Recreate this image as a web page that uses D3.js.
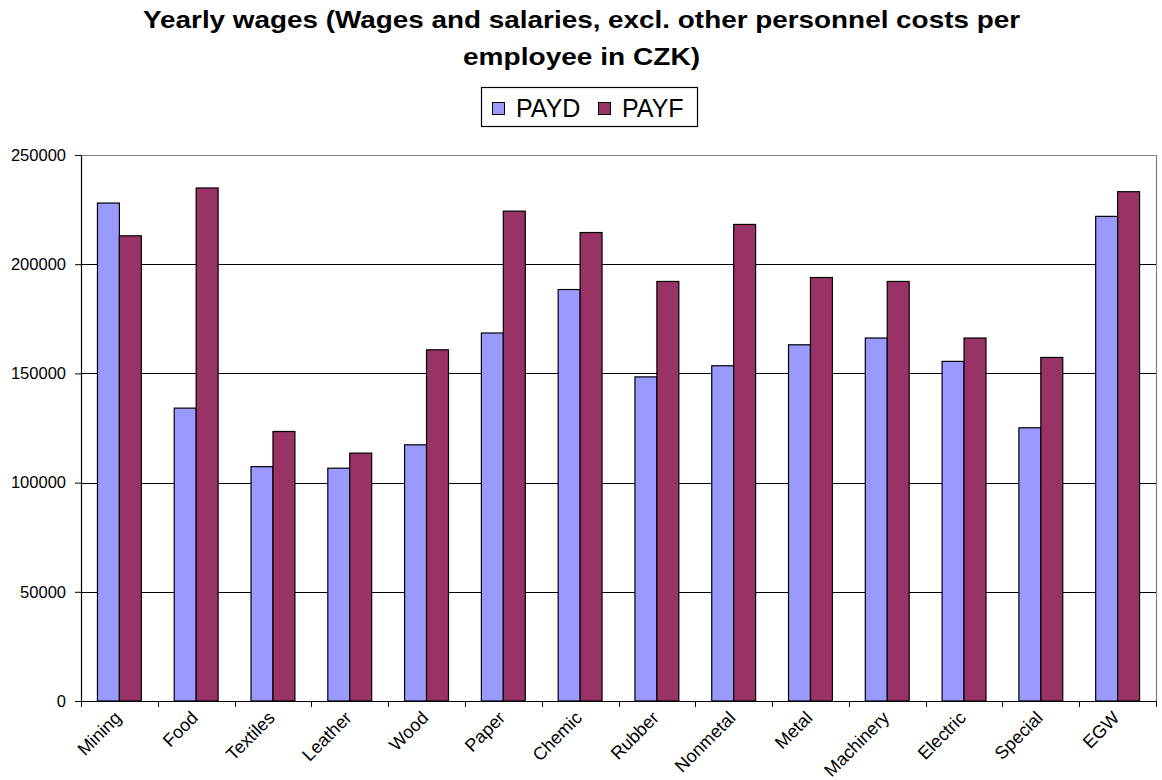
<!DOCTYPE html>
<html>
<head>
<meta charset="utf-8">
<script src="https://cdn.jsdelivr.net/npm/d3@7"></script>
<style>
  html, body { margin: 0; padding: 0; background: #fff; }
  svg { display: block; font-family: "Liberation Sans", Arial, sans-serif; }
</style>
</head>
<body>
<svg id="chart" width="1162" height="780"></svg>
<script>
// Industry categories along the x axis
const categories = ["Mining", "Food", "Textiles", "Leather", "Wood", "Paper", "Chemic",
  "Rubber", "Nonmetal", "Metal", "Machinery", "Electric", "Special", "EGW"];

// Yearly wages per employee (CZK)
const payd = [228000, 134100, 107300, 106600, 117300, 168500, 188400,
  148400, 153500, 163100, 166200, 155500, 125100, 221900];
const payf = [213000, 234900, 123400, 113500, 160800, 224300, 214500,
  192100, 218200, 193900, 192100, 166200, 157300, 233200];

const seriesNames = ["PAYD", "PAYF"];
const seriesColors = ["#9999FF", "#993366"];
const yTicks = [0, 50000, 100000, 150000, 200000, 250000];

const svg = d3.select("#chart");
const plot = { left: 81, right: 1156, top: 155, bottom: 701 };

const x = d3.scaleBand().domain(categories).range([plot.left, plot.right]).paddingInner(0).paddingOuter(0);
const y = d3.scaleLinear().domain([0, 250000]).range([plot.bottom, plot.top]);

// Title, two centred lines in wide bold type
const titleLines = [
  { text: "Yearly wages (Wages and salaries, excl. other personnel costs per", y: 28, len: 877 },
  { text: "employee in CZK)", y: 65, len: 237 }
];
svg.append("g").selectAll("text").data(titleLines).join("text")
  .attr("x", 581.5).attr("y", d => d.y).attr("text-anchor", "middle")
  .attr("font-size", 24).attr("font-weight", "bold").attr("fill", "#000")
  .attr("textLength", d => d.len).attr("lengthAdjust", "spacingAndGlyphs")
  .text(d => d.text);

// Legend
const legend = svg.append("g");
legend.append("rect").attr("x", 481.5).attr("y", 87.5).attr("width", 216).attr("height", 39)
  .attr("fill", "#fff").attr("stroke", "#000").attr("stroke-width", 1.2);
const legendItems = [{ x: 492, tx: 516 }, { x: 598, tx: 622 }];
seriesNames.forEach((name, i) => {
  legend.append("rect").attr("x", legendItems[i].x + 0.5).attr("y", 102.5).attr("width", 12).attr("height", 12)
    .attr("fill", seriesColors[i]).attr("stroke", "#000").attr("stroke-width", 1);
  legend.append("text").attr("x", legendItems[i].tx).attr("y", 116.5)
    .attr("font-size", 25).attr("fill", "#000").text(name);
});

// Plot border (top and right in grey)
svg.append("path")
  .attr("d", `M${plot.left},${plot.top + 0.5}H${plot.right + 0.5}V${plot.bottom}`)
  .attr("fill", "none").attr("stroke", "#808080").attr("stroke-width", 1.2);

// Horizontal gridlines
svg.append("g").selectAll("line")
  .data(yTicks.filter(t => t > 0 && t < 250000))
  .join("line")
  .attr("x1", plot.left).attr("x2", plot.right)
  .attr("y1", d => Math.round(y(d)) + 0.5).attr("y2", d => Math.round(y(d)) + 0.5)
  .attr("stroke", "#000").attr("stroke-width", 1);

// Bars
const bandW = x.bandwidth();
const barW = bandW / 3.5; // 150% gap width
const groups = svg.append("g").selectAll("g")
  .data(categories)
  .join("g")
  .attr("transform", d => `translate(${x(d) + bandW / 2 - barW},0)`);
[payd, payf].forEach((vals, s) => {
  groups.append("rect")
    .attr("x", s * barW)
    .attr("y", (d, i) => y(vals[i]))
    .attr("width", barW)
    .attr("height", (d, i) => y(0) - y(vals[i]))
    .attr("fill", seriesColors[s])
    .attr("stroke", "#000").attr("stroke-width", 1.2);
});

// Y axis
const yAxis = svg.append("g").attr("transform", `translate(${plot.left},0)`)
  .call(d3.axisLeft(y).tickValues(yTicks).tickSize(6).tickSizeOuter(0).tickFormat(d3.format("d")));
yAxis.select(".domain").attr("stroke", "#000").attr("stroke-width", 1.2);
yAxis.selectAll(".tick line").attr("stroke", "#000");
yAxis.selectAll(".tick text").attr("font-size", 16.5).attr("fill", "#000")
  .attr("font-family", "Liberation Sans, Arial, sans-serif").attr("x", -15);

// X axis: ticks between categories, labels rotated
const xAxis = svg.append("g").attr("transform", `translate(0,${plot.bottom})`);
xAxis.append("line").attr("x1", plot.left).attr("x2", plot.right + 0.5).attr("y1", 0.5).attr("y2", 0.5)
  .attr("stroke", "#000").attr("stroke-width", 1.2);
const boundaries = categories.map(c => x(c)).concat([plot.right]);
xAxis.selectAll(".btick").data(boundaries).join("line")
  .attr("x1", d => Math.round(d) + 0.5).attr("x2", d => Math.round(d) + 0.5)
  .attr("y1", 0).attr("y2", 6).attr("stroke", "#000");
xAxis.selectAll(".xlabel").data(categories).join("text")
  .attr("text-anchor", "end")
  .attr("font-size", 18).attr("fill", "#000")
  .attr("transform", d => `translate(${x(d) + bandW / 2 + 3},${18}) rotate(-45)`)
  .text(d => d);
</script>
</body>
</html>
